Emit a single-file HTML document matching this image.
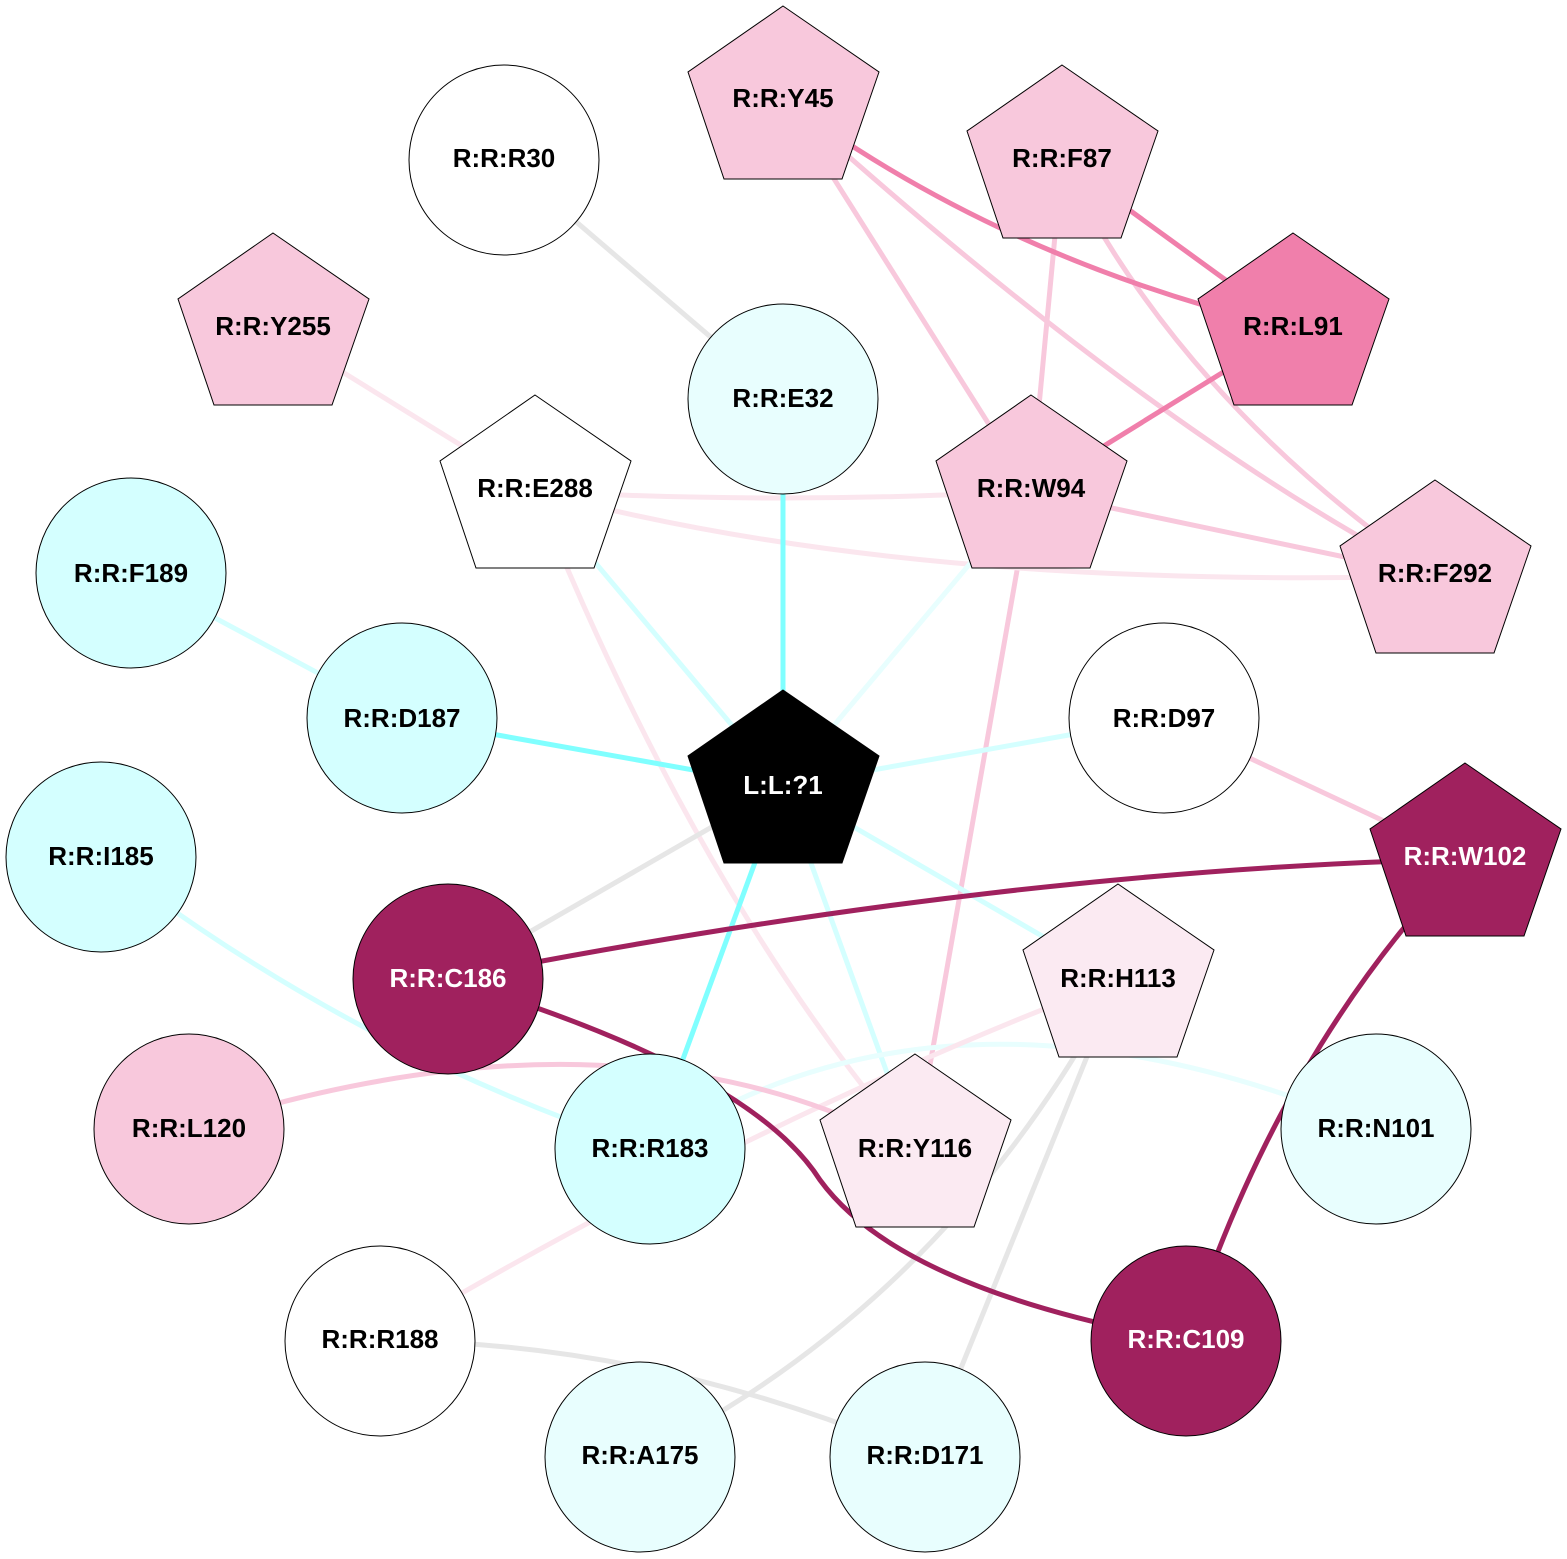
<!DOCTYPE html>
<html><head><meta charset="utf-8"><style>body{margin:0;background:#fff}svg{display:block}text{font-family:"Liberation Sans",Arial,sans-serif;font-weight:bold;font-size:26px;text-anchor:middle;dominant-baseline:central}</style></head><body>
<svg width="1567" height="1559" viewBox="0 0 1567 1559" xmlns="http://www.w3.org/2000/svg">
<g fill="none" stroke-width="5">
<path d="M504,160 L783,399" stroke="#e6e6e6"/>
<path d="M1431,576 Q1150,430 783,98" stroke="#f8c8dc"/>
<path d="M1062,161 Q1180,400 1435,576" stroke="#f8c8dc"/>
<path d="M1031,491 L1435,576" stroke="#f8c8dc"/>
<path d="M783,98 L1031,491" stroke="#f8c8dc"/>
<path d="M1062,161 L1031,491" stroke="#f8c8dc"/>
<path d="M1031,491 L915,1150" stroke="#f8c8dc"/>
<path d="M783,98 Q1000,260 1293,329" stroke="#f07fab"/>
<path d="M1062,161 L1293,329" stroke="#f07fab"/>
<path d="M1031,491 L1293,329" stroke="#f07fab"/>
<path d="M273,329 L535,491" stroke="#fbe6ee"/>
<path d="M535,491 Q780,505 1031,491" stroke="#fbe6ee"/>
<path d="M535,491 Q900,590 1435,576" stroke="#fbe6ee"/>
<path d="M535,491 Q700,900 915,1150" stroke="#fbe6ee"/>
<path d="M535,491 L783,786" stroke="#d4ffff"/>
<path d="M1031,491 L783,786" stroke="#e8fefe"/>
<path d="M131,573 L402,718" stroke="#d4ffff"/>
<path d="M1164,718 L783,786" stroke="#d4ffff"/>
<path d="M1164,718 L1465,859" stroke="#f8c8dc"/>
<path d="M783,786 L448,979" stroke="#e6e6e6"/>
<path d="M783,786 L915,1150" stroke="#d4ffff"/>
<path d="M783,786 L1118,980" stroke="#d4ffff"/>
<path d="M101,857 Q350,1050 650,1149" stroke="#d4ffff"/>
<path d="M650,1149 Q950,950 1376,1129" stroke="#e8fefe"/>
<path d="M1118,980 Q750,1120 380,1341" stroke="#fbe6ee"/>
<path d="M1118,980 Q950,1300 640,1457" stroke="#e6e6e6"/>
<path d="M1118,980 L925,1457" stroke="#e6e6e6"/>
<path d="M380,1341 Q650,1340 925,1457" stroke="#e6e6e6"/>
<path d="M189,1129 Q620,990 915,1150" stroke="#f8c8dc"/>
<path d="M783,399 L783,786" stroke="#80ffff"/>
<path d="M402,718 L783,786" stroke="#80ffff"/>
<path d="M783,786 L650,1149" stroke="#80ffff"/>
<path d="M448,979 Q1000,870 1465,859" stroke="#a0215e"/>
<path d="M448,979 Q750,1070 820,1180 Q900,1290 1186,1341" stroke="#a0215e"/>
<path d="M1465,859 Q1280,1050 1186,1341" stroke="#a0215e"/>
</g>
<g stroke="#000" stroke-width="1">
<circle cx="504" cy="160" r="95" fill="#fff"/>
<circle cx="783" cy="399" r="95" fill="#e8fefe"/>
<circle cx="131" cy="573" r="95" fill="#d4ffff"/>
<circle cx="402" cy="718" r="95" fill="#d4ffff"/>
<circle cx="1164" cy="718" r="95" fill="#fff"/>
<circle cx="101" cy="857" r="95" fill="#d4ffff"/>
<circle cx="448" cy="979" r="95" fill="#a0215e"/>
<circle cx="189" cy="1129" r="95" fill="#f8c8dc"/>
<circle cx="650" cy="1149" r="95" fill="#d4ffff"/>
<circle cx="1376" cy="1129" r="95" fill="#e8fefe"/>
<circle cx="380" cy="1341" r="95" fill="#fff"/>
<circle cx="1186" cy="1341" r="95" fill="#a0215e"/>
<circle cx="640" cy="1457" r="95" fill="#e8fefe"/>
<circle cx="925" cy="1457" r="95" fill="#e8fefe"/>
<polygon points="783,6 879,72 842,179 724,179 688,72" fill="#f8c8dc"/>
<polygon points="1062,65 1158,131 1121,238 1003,238 967,131" fill="#f8c8dc"/>
<polygon points="1293,233 1389,299 1352,405 1234,405 1198,299" fill="#f07fab"/>
<polygon points="273,233 369,299 332,405 214,405 178,299" fill="#f8c8dc"/>
<polygon points="535,395 631,461 594,568 476,568 440,461" fill="#fff"/>
<polygon points="1031,395 1127,461 1090,568 972,568 936,461" fill="#f8c8dc"/>
<polygon points="1435,480 1531,546 1494,653 1376,653 1340,546" fill="#f8c8dc"/>
<polygon points="783,690 879,756 842,863 724,863 688,756" fill="#000"/>
<polygon points="1465,763 1561,829 1524,936 1406,936 1370,829" fill="#a0215e"/>
<polygon points="1118,884 1214,950 1177,1057 1059,1057 1023,950" fill="#fbeaf2"/>
<polygon points="915,1054 1011,1120 974,1227 856,1227 820,1120" fill="#fbeaf2"/>
</g>
<g fill="#000">
<text x="504" y="158">R:R:R30</text>
<text x="783" y="98">R:R:Y45</text>
<text x="1062" y="158">R:R:F87</text>
<text x="1293" y="326">R:R:L91</text>
<text x="273" y="326">R:R:Y255</text>
<text x="783" y="398">R:R:E32</text>
<text x="535" y="488">R:R:E288</text>
<text x="1031" y="488">R:R:W94</text>
<text x="1435" y="573">R:R:F292</text>
<text x="131" y="573">R:R:F189</text>
<text x="402" y="718">R:R:D187</text>
<text x="1164" y="718">R:R:D97</text>
<text x="101" y="856">R:R:I185</text>
<text x="1118" y="978">R:R:H113</text>
<text x="189" y="1128">R:R:L120</text>
<text x="650" y="1148">R:R:R183</text>
<text x="915" y="1148">R:R:Y116</text>
<text x="1376" y="1128">R:R:N101</text>
<text x="380" y="1339">R:R:R188</text>
<text x="640" y="1455">R:R:A175</text>
<text x="925" y="1455">R:R:D171</text>
</g>
<g fill="#fff">
<text x="783" y="785">L:L:?1</text>
<text x="1465" y="856">R:R:W102</text>
<text x="448" y="978">R:R:C186</text>
<text x="1186" y="1339">R:R:C109</text>
</g>
</svg>
</body></html>
